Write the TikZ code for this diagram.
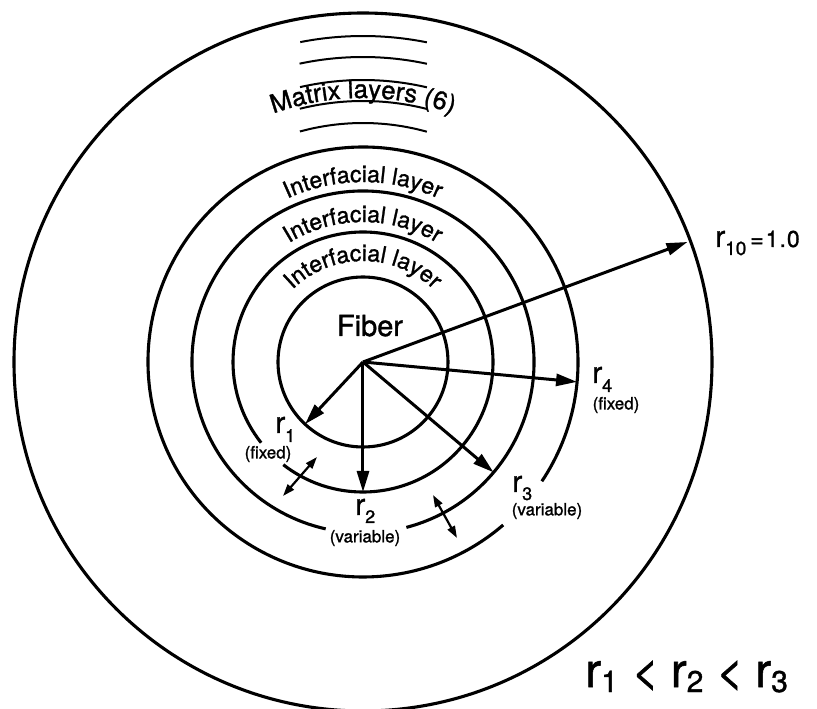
\documentclass[tikz,border=0pt]{standalone}
\usepackage{fontspec}
\setmainfont{TeX Gyre Heros}[FakeBold=1.2]
\usetikzlibrary{arrows.meta,decorations.text}
\newcommand\fs[1]{\fontsize{#1pt}{#1pt}\selectfont}
\newcommand\ifont{\fontsize{23pt}{23pt}\selectfont}
\newcommand\mfont{\fontsize{25.5pt}{25.5pt}\selectfont}
\newcommand\rlab[4]{{\fs{#1}r}\raisebox{-#3pt}{\fs{#2}#4}}
\begin{document}
\begin{tikzpicture}[x=1pt,y=1pt,
  ring/.style={line width=3.1pt},
  mlayer/.style={line width=2pt},
  arr/.style={line width=3pt,-{Triangle[length=21pt,width=12pt]}},
  darr/.style={line width=2.2pt,{Triangle[length=12pt,width=8pt]}-{Triangle[length=12pt,width=8pt]}},
  lab/.style={inner sep=0pt},
  curvetext/.style={decorate,decoration={text along path,text align=center,text={#1}}}]
\useasboundingbox (-363,-347) rectangle (454,362);
\fill[white] (-363,-347) rectangle (454,362);
\coordinate (O) at (0,0);
% circles
\draw[ring] (O) circle[radius=349pt];
\draw[ring] (O) circle[radius=85pt];
\draw[ring] (-127.8:130) arc[start angle=-127.8,end angle=218.4,radius=130pt];
\draw[ring] (-75.3:171) arc[start angle=-75.3,end angle=257.4,radius=171pt];
\draw[ring] (-33.7:215) arc[start angle=-33.7,end angle=310.7,radius=215pt];
% matrix layers
\foreach \r/\a/\b in {326/101.1/78.7,305/102/77.9,282/102.9/76.9,261/104/75.8,239/105.3/74.5}
  \draw[mlayer] (\a:\r) arc[start angle=\a,end angle=\b,radius=\r pt];
\path[curvetext={|\mfont|Matrix layers (6)}] (180:264) arc[start angle=180,end angle=0,radius=264pt];
% interfacial texts
\path[curvetext={|\ifont|Interfacial layer}] (180:180) arc[start angle=180,end angle=0,radius=180pt];
\path[curvetext={|\ifont|Interfacial layer}] (180:140) arc[start angle=180,end angle=0,radius=140pt];
\path[curvetext={|\ifont|Interfacial layer}] (180:101) arc[start angle=180,end angle=0,radius=101pt];
\node[lab,anchor=base] (fiber) at (7,26) {\fs{29}Fiber};
% radius arrows
\coordinate (t1) at (-133:85);
\coordinate (t2) at (-90:130);
\coordinate (t3) at (-40.2:171);
\coordinate (t4) at (-5.3:215);
\coordinate (t10) at (20.3:346);
\draw[arr] (O) -- (t1);
\draw[arr] (O) -- (t2);
\draw[arr] (O) -- (t3);
\draw[arr] (O) -- (t4);
\draw[arr] (O) -- (t10);
% double arrows
\coordinate (d1a) at (-80,-134);
\coordinate (d1b) at (-46,-95);
\coordinate (d2a) at (70,-133);
\coordinate (d2b) at (94,-176);
\draw[darr] (d1a) -- (d1b);
\draw[darr] (d2a) -- (d2b);
% labels
\node[lab,anchor=base west] (r1) at (-88,-71) {\rlab{30}{18}{9}{1}};
\node[lab] (f1) at (-95,-92) {\fs{17}(fixed)};
\node[lab,anchor=base west] (r2) at (-8,-153) {\rlab{30}{18}{8}{2}};
\node[lab] (v2) at (2,-176) {\fs{17}(variable)};
\node[lab,anchor=base west] (r3) at (149,-130) {\rlab{30}{18}{8}{3}};
\node[lab] (v3) at (184,-149) {\fs{17}(variable)};
\node[lab,anchor=base west] (r4) at (229,-21) {\rlab{30}{18}{9}{4}};
\node[lab] (f4) at (253,-43) {\fs{17}(fixed)};
\node[lab,anchor=base west] (r10) at (352,115) {\rlab{30}{19}{8}{10}\kern4pt{\fs{23}=\kern2pt1\kern1pt.\kern1pt0}};
\node[lab,anchor=base west] (ineq) at (222,-325) {\rlab{48}{30}{5}{1}\hspace{14pt}{\fs{46}<}\hspace{12pt}\rlab{48}{30}{5}{2}\hspace{13pt}{\fs{46}<}\hspace{12pt}\rlab{48}{30}{5}{3}};
\end{tikzpicture}
\end{document}
